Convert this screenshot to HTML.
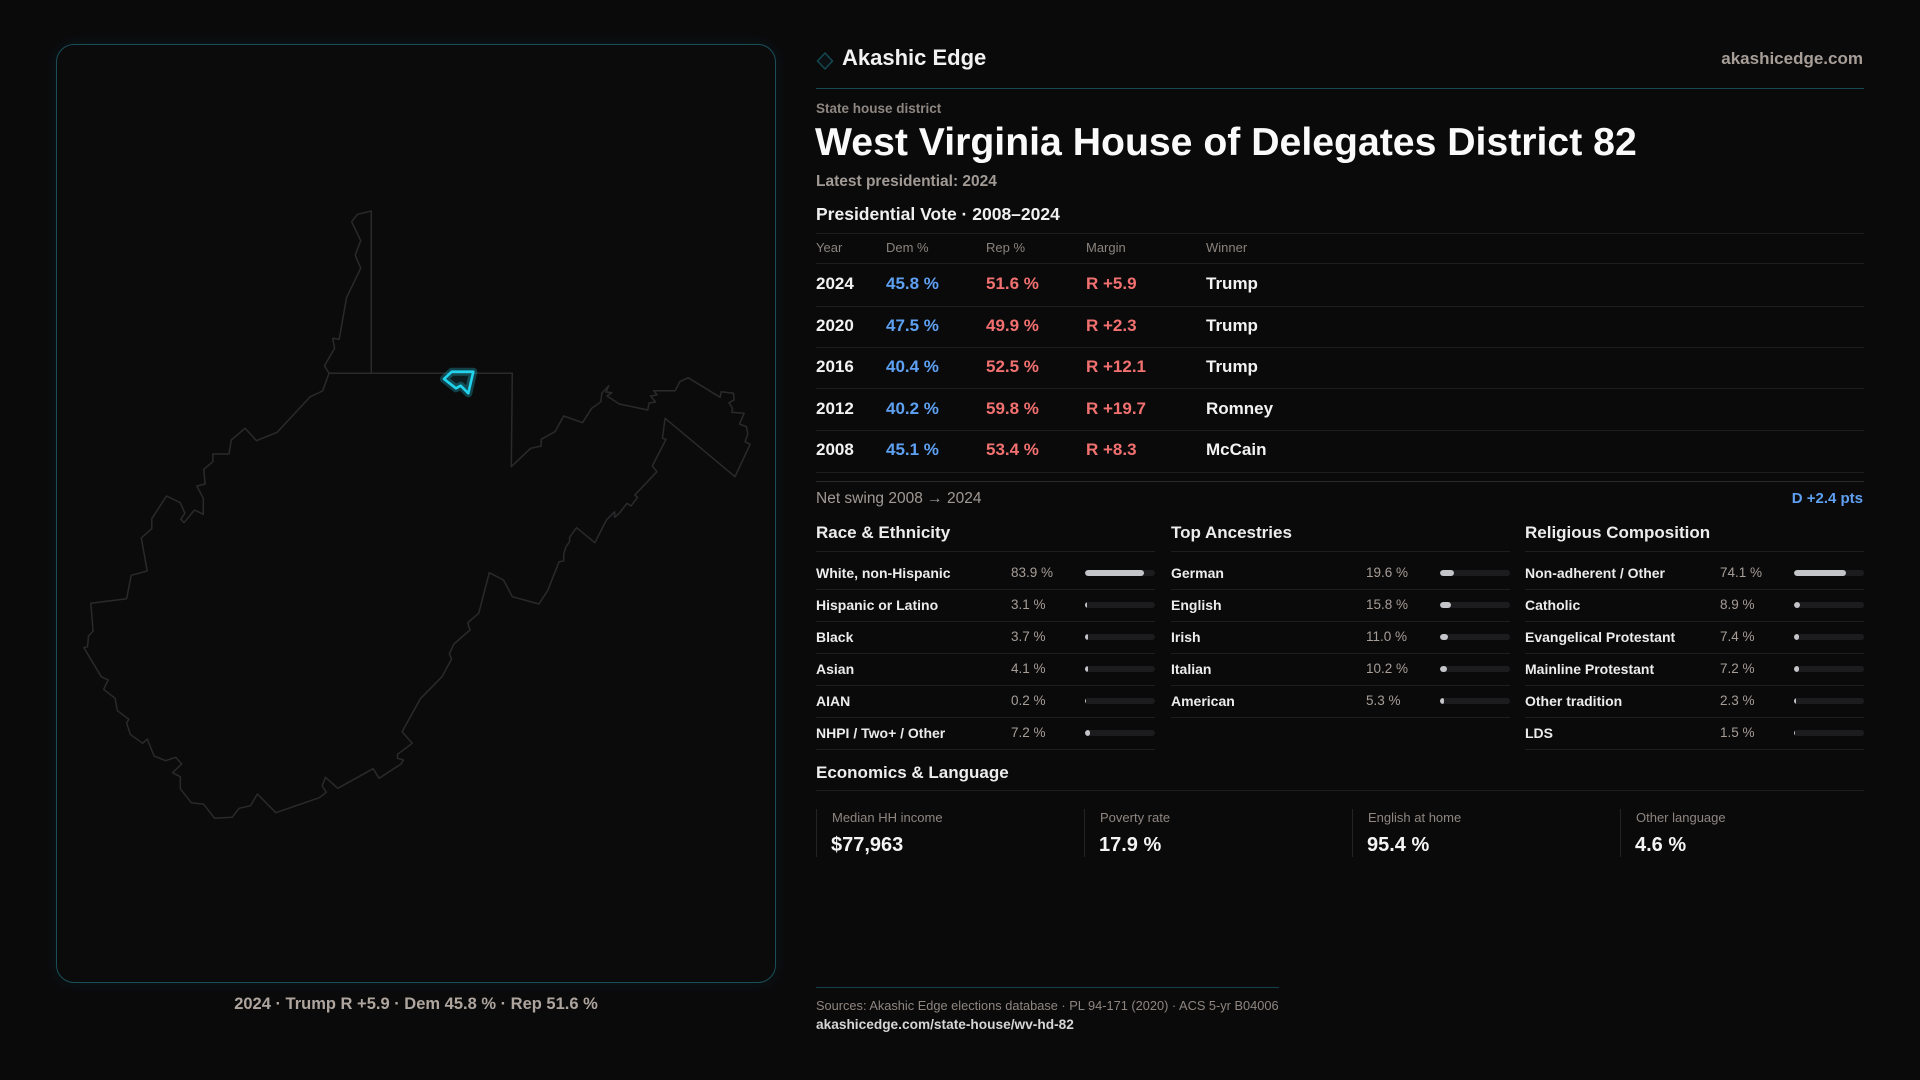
<!DOCTYPE html>
<html><head><meta charset="utf-8"><style>
body{margin:0;width:1920px;height:1080px;background:#0b0a0b;position:relative;overflow:hidden;font-family:"Liberation Sans",sans-serif;}
.a{position:absolute;white-space:nowrap;}
.ln{position:absolute;height:1px;background:#1e1e20;}
.h{font-size:13px;line-height:16px;color:#8a837d;}
.r{font-size:17px;line-height:20px;font-weight:bold;}
.y{color:#f2f2f2}.d{color:#5ea1f2}.p{color:#f27170}.w{color:#f2f2f2}
.sh{font-size:17px;line-height:20px;font-weight:bold;color:#ededed;}
.lb{font-size:14px;line-height:20px;font-weight:bold;color:#ececec;}
.v{font-size:13.5px;line-height:20px;color:#a69d96;}
.tr{position:absolute;height:6px;width:70px;border-radius:3px;background:#1c1c1e;overflow:hidden;}
.tr i{position:absolute;left:0;top:0;height:6px;border-radius:3px;background:#c4c5c9;display:block;}
.cd{position:absolute;top:809px;height:48px;border-left:1px solid #232325;width:244px;}
.cl{position:absolute;left:15px;top:0;font-size:13px;line-height:17px;color:#8e8680;white-space:nowrap;}
.cv{position:absolute;left:14px;top:24px;font-size:20px;line-height:24px;font-weight:bold;color:#f4f4f4;white-space:nowrap;}
</style></head><body>

<!-- Map panel -->
<div class="a" style="left:56px;top:44px;width:718px;height:937px;border:1.5px solid #1a4f59;border-radius:18px;background:#0c0b0c;box-shadow:0 0 16px rgba(34,211,238,0.07);"></div>
<svg class="a" style="left:0;top:0" width="800" height="1080" viewBox="0 0 800 1080">
<path fill="none" stroke="#2a2a2c" stroke-width="1.5" stroke-linejoin="round" d="M371.3,211 L371.3,373.3 L512.3,373.3 L511.3,466.7 L530.6,448.3 L541.2,446 L541.2,439.3 L555,431.7 L563.7,416 L582.5,422.7 L591.7,408.3 L600.9,401.7 L601.8,393.3 L608.7,385.7 L606,392 L611.9,392.7 L607,396 L619.2,404 L647.7,410 L649.1,403 L655.5,402 L650.5,396 L657,395 L653.7,390.7 L675.2,390.7 L679.8,381.7 L688.1,377.7 L720.2,397.3 L721.2,391.7 L733.5,393.3 L734,400 L729,402.7 L732.6,408.3 L731.7,412.3 L744.1,413.3 L739.5,424 L746.4,426.7 L747.8,434 L745,441.7 L750.1,444.3 L735,476.7 L665.1,418.3 L662.4,438.3 L666,439.3 L652.3,466 L656.9,471.7 L634.8,495 L637.6,497.3 L631,506 L627,503.3 L619.2,513.3 L614.6,517.3 L614.6,511.7 L606.4,520 L594.9,542.7 L576.5,527.7 L569.6,537.3 L569.6,541.7 L566,546.7 L563.7,554 L563.7,561 L559.1,561.7 L547.6,590.7 L538.9,604 L512.3,596.7 L503.5,580 L489.3,572.7 L478.7,613.3 L467.7,622.7 L470,630 L453.9,644 L449.3,654 L451.6,659 L442,676.7 L420.4,698.7 L402.1,731.7 L412.2,743.3 L397.5,754.3 L397.5,758.3 L403.4,760 L401.1,764 L379.1,778.3 L373.1,768.7 L337.8,788.3 L325.4,777.3 L322.2,786 L326.3,792.3 L319.4,797.7 L275.8,812.7 L257.4,794 L250.5,805.7 L239.1,808.3 L232.2,817.3 L214.7,818.3 L203.7,804.3 L191.3,802.7 L180.3,788.7 L180.3,776.7 L172.5,772.7 L181.7,764 L175.7,757.3 L165.6,760.7 L154.1,756 L147.2,739 L142.6,743.3 L130.2,734.3 L126.6,722.7 L128.9,719.3 L117.4,710.7 L115.1,698.3 L103.6,689.3 L108.2,680 L101.3,676.7 L83.9,647.7 L87.5,646.7 L88.5,636 L93.1,631 L90.8,603.3 L126.6,598.7 L131.2,575.3 L147.2,571 L141.3,538 L151.8,528.7 L151.8,518.7 L166.5,496 L180.3,502.7 L184.9,513.3 L180.8,519.3 L184,522.7 L194.5,510 L203.3,514.3 L203.3,498.3 L196.8,486 L205.1,484 L203.7,469.3 L212.9,461.7 L212.9,454 L229,454 L231.3,440 L245,428.3 L256.5,440.7 L277.2,432.3 L310.2,396.7 L322.6,391 L329,373.3 L324.5,365.7 L334.6,348.3 L332.7,338.3 L339.2,339.3 L346.5,297.7 L360.7,268.3 L355.2,255 L360.7,240.7 L351.6,221.7 L357.5,214.3 Z M329,373.3 L371.3,373.3"/>
<polygon points="444,379 451.7,371.7 473.3,371.7 468.3,393.3 460.7,385.7 456,388.3" fill="rgba(34,211,238,0.08)" stroke="rgba(34,211,238,0.28)" stroke-width="8" stroke-linejoin="round"/>
<polygon points="444,379 451.7,371.7 473.3,371.7 468.3,393.3 460.7,385.7 456,388.3" fill="none" stroke="#22d3ee" stroke-width="2.6" stroke-linejoin="round"/>
</svg>
<div class="a" style="left:56px;width:720px;top:994px;text-align:center;font-size:16.5px;line-height:20px;font-weight:bold;color:#aea59e;">2024 · Trump R +5.9 · Dem 45.8 % · Rep 51.6 %</div>

<!-- Header -->
<svg class="a" style="left:815px;top:51px" width="20" height="20" viewBox="0 0 20 20"><polygon points="10,2 17.5,10 10,18 2.5,10" fill="rgba(34,211,238,0.04)" stroke="#154a54" stroke-width="1.4"/></svg>
<div class="a" style="left:842px;top:45px;font-size:22px;line-height:26px;font-weight:bold;color:#f2f2f2;">Akashic Edge</div>
<div class="a" style="right:57px;top:49px;font-size:17px;line-height:20px;font-weight:bold;color:#a79e98;">akashicedge.com</div>
<div class="ln" style="left:816px;top:88px;width:1048px;background:#164a54;"></div>

<div class="a" style="left:816px;top:101px;font-size:13.5px;line-height:16px;font-weight:bold;color:#8e8680;">State house district</div>
<div class="a" style="left:815px;top:121px;font-size:39.2px;line-height:44px;font-weight:bold;color:#fafafa;">West Virginia House of Delegates District 82</div>
<div class="a" style="left:816px;top:172.7px;font-size:15.5px;line-height:18px;font-weight:bold;color:#a19a94;">Latest presidential: 2024</div>
<div class="a" style="left:816px;top:204.3px;font-size:17.5px;line-height:20px;font-weight:bold;color:#f0f0f0;">Presidential Vote · 2008–2024</div>

<!-- Table -->
<div class="ln" style="left:816px;top:233px;width:1048px;"></div>
<div class="a h" style="left:816px;top:240.3px;">Year</div>
<div class="a h" style="left:886px;top:240.3px;">Dem %</div>
<div class="a h" style="left:986px;top:240.3px;">Rep %</div>
<div class="a h" style="left:1086px;top:240.3px;">Margin</div>
<div class="a h" style="left:1206px;top:240.3px;">Winner</div>
<div class="ln" style="left:816px;top:263px;width:1048px;"></div>

<div class="a r y" style="left:816px;top:274px;">2024</div>
<div class="a r d" style="left:886px;top:274px;">45.8 %</div>
<div class="a r p" style="left:986px;top:274px;">51.6 %</div>
<div class="a r p" style="left:1086px;top:274px;">R +5.9</div>
<div class="a r w" style="left:1206px;top:274px;">Trump</div>
<div class="ln" style="left:816px;top:305.5px;width:1048px;"></div>

<div class="a r y" style="left:816px;top:315.6px;">2020</div>
<div class="a r d" style="left:886px;top:315.6px;">47.5 %</div>
<div class="a r p" style="left:986px;top:315.6px;">49.9 %</div>
<div class="a r p" style="left:1086px;top:315.6px;">R +2.3</div>
<div class="a r w" style="left:1206px;top:315.6px;">Trump</div>
<div class="ln" style="left:816px;top:347px;width:1048px;"></div>

<div class="a r y" style="left:816px;top:357.2px;">2016</div>
<div class="a r d" style="left:886px;top:357.2px;">40.4 %</div>
<div class="a r p" style="left:986px;top:357.2px;">52.5 %</div>
<div class="a r p" style="left:1086px;top:357.2px;">R +12.1</div>
<div class="a r w" style="left:1206px;top:357.2px;">Trump</div>
<div class="ln" style="left:816px;top:387.5px;width:1048px;"></div>

<div class="a r y" style="left:816px;top:398.8px;">2012</div>
<div class="a r d" style="left:886px;top:398.8px;">40.2 %</div>
<div class="a r p" style="left:986px;top:398.8px;">59.8 %</div>
<div class="a r p" style="left:1086px;top:398.8px;">R +19.7</div>
<div class="a r w" style="left:1206px;top:398.8px;">Romney</div>
<div class="ln" style="left:816px;top:430px;width:1048px;"></div>

<div class="a r y" style="left:816px;top:440.4px;">2008</div>
<div class="a r d" style="left:886px;top:440.4px;">45.1 %</div>
<div class="a r p" style="left:986px;top:440.4px;">53.4 %</div>
<div class="a r p" style="left:1086px;top:440.4px;">R +8.3</div>
<div class="a r w" style="left:1206px;top:440.4px;">McCain</div>
<div class="ln" style="left:816px;top:472px;width:1048px;"></div>
<div class="ln" style="left:816px;top:481px;width:1048px;background:#2a2a2c;"></div>

<div class="a" style="left:816px;top:490px;font-size:15.5px;line-height:18px;color:#a19a94;">Net swing 2008 → 2024</div>
<div class="a" style="right:57px;top:490px;font-size:15px;line-height:18px;font-weight:bold;color:#5ea1f2;">D +2.4 pts</div>

<!-- Race & Ethnicity -->
<div class="a sh" style="left:816px;top:522.7px;">Race &amp; Ethnicity</div>
<div class="ln" style="left:816px;top:551px;width:339px;"></div>
<div class="a lb" style="left:816px;top:562.7px;">White, non-Hispanic</div><div class="a v" style="left:1011px;top:562.7px;">83.9 %</div><div class="tr" style="left:1085px;top:569.7px;"><i style="width:58.7px"></i></div>
<div class="ln" style="left:816px;top:588.7px;width:339px;"></div>
<div class="a lb" style="left:816px;top:594.8px;">Hispanic or Latino</div><div class="a v" style="left:1011px;top:594.8px;">3.1 %</div><div class="tr" style="left:1085px;top:601.8px;"><i style="width:2.2px"></i></div>
<div class="ln" style="left:816px;top:620.8px;width:339px;"></div>
<div class="a lb" style="left:816px;top:626.9px;">Black</div><div class="a v" style="left:1011px;top:626.9px;">3.7 %</div><div class="tr" style="left:1085px;top:633.9px;"><i style="width:2.6px"></i></div>
<div class="ln" style="left:816px;top:652.9px;width:339px;"></div>
<div class="a lb" style="left:816px;top:659px;">Asian</div><div class="a v" style="left:1011px;top:659px;">4.1 %</div><div class="tr" style="left:1085px;top:666px;"><i style="width:2.9px"></i></div>
<div class="ln" style="left:816px;top:685px;width:339px;"></div>
<div class="a lb" style="left:816px;top:691.1px;">AIAN</div><div class="a v" style="left:1011px;top:691.1px;">0.2 %</div><div class="tr" style="left:1085px;top:698.1px;"><i style="width:0.2px"></i></div>
<div class="ln" style="left:816px;top:717.1px;width:339px;"></div>
<div class="a lb" style="left:816px;top:723.2px;">NHPI / Two+ / Other</div><div class="a v" style="left:1011px;top:723.2px;">7.2 %</div><div class="tr" style="left:1085px;top:730.2px;"><i style="width:5px"></i></div>
<div class="ln" style="left:816px;top:749.2px;width:339px;"></div>

<!-- Top Ancestries -->
<div class="a sh" style="left:1171px;top:522.7px;">Top Ancestries</div>
<div class="ln" style="left:1171px;top:551px;width:339px;"></div>
<div class="a lb" style="left:1171px;top:562.7px;">German</div><div class="a v" style="left:1366px;top:562.7px;">19.6 %</div><div class="tr" style="left:1440px;top:569.7px;"><i style="width:13.7px"></i></div>
<div class="ln" style="left:1171px;top:588.7px;width:339px;"></div>
<div class="a lb" style="left:1171px;top:594.8px;">English</div><div class="a v" style="left:1366px;top:594.8px;">15.8 %</div><div class="tr" style="left:1440px;top:601.8px;"><i style="width:11px"></i></div>
<div class="ln" style="left:1171px;top:620.8px;width:339px;"></div>
<div class="a lb" style="left:1171px;top:626.9px;">Irish</div><div class="a v" style="left:1366px;top:626.9px;">11.0 %</div><div class="tr" style="left:1440px;top:633.9px;"><i style="width:7.7px"></i></div>
<div class="ln" style="left:1171px;top:652.9px;width:339px;"></div>
<div class="a lb" style="left:1171px;top:659px;">Italian</div><div class="a v" style="left:1366px;top:659px;">10.2 %</div><div class="tr" style="left:1440px;top:666px;"><i style="width:7.1px"></i></div>
<div class="ln" style="left:1171px;top:685px;width:339px;"></div>
<div class="a lb" style="left:1171px;top:691.1px;">American</div><div class="a v" style="left:1366px;top:691.1px;">5.3 %</div><div class="tr" style="left:1440px;top:698.1px;"><i style="width:3.7px"></i></div>
<div class="ln" style="left:1171px;top:717.1px;width:339px;"></div>

<!-- Religious Composition -->
<div class="a sh" style="left:1525px;top:522.7px;">Religious Composition</div>
<div class="ln" style="left:1525px;top:551px;width:339px;"></div>
<div class="a lb" style="left:1525px;top:562.7px;">Non-adherent / Other</div><div class="a v" style="left:1720px;top:562.7px;">74.1 %</div><div class="tr" style="left:1794px;top:569.7px;"><i style="width:51.9px"></i></div>
<div class="ln" style="left:1525px;top:588.7px;width:339px;"></div>
<div class="a lb" style="left:1525px;top:594.8px;">Catholic</div><div class="a v" style="left:1720px;top:594.8px;">8.9 %</div><div class="tr" style="left:1794px;top:601.8px;"><i style="width:6.2px"></i></div>
<div class="ln" style="left:1525px;top:620.8px;width:339px;"></div>
<div class="a lb" style="left:1525px;top:626.9px;">Evangelical Protestant</div><div class="a v" style="left:1720px;top:626.9px;">7.4 %</div><div class="tr" style="left:1794px;top:633.9px;"><i style="width:5.2px"></i></div>
<div class="ln" style="left:1525px;top:652.9px;width:339px;"></div>
<div class="a lb" style="left:1525px;top:659px;">Mainline Protestant</div><div class="a v" style="left:1720px;top:659px;">7.2 %</div><div class="tr" style="left:1794px;top:666px;"><i style="width:5px"></i></div>
<div class="ln" style="left:1525px;top:685px;width:339px;"></div>
<div class="a lb" style="left:1525px;top:691.1px;">Other tradition</div><div class="a v" style="left:1720px;top:691.1px;">2.3 %</div><div class="tr" style="left:1794px;top:698.1px;"><i style="width:1.6px"></i></div>
<div class="ln" style="left:1525px;top:717.1px;width:339px;"></div>
<div class="a lb" style="left:1525px;top:723.2px;">LDS</div><div class="a v" style="left:1720px;top:723.2px;">1.5 %</div><div class="tr" style="left:1794px;top:730.2px;"><i style="width:1.1px"></i></div>
<div class="ln" style="left:1525px;top:749.2px;width:339px;"></div>

<!-- Economics -->
<div class="a sh" style="left:816px;top:762.7px;">Economics &amp; Language</div>
<div class="ln" style="left:816px;top:790px;width:1048px;"></div>
<div class="cd" style="left:816px;"><div class="cl">Median HH income</div><div class="cv">$77,963</div></div>
<div class="cd" style="left:1084px;"><div class="cl">Poverty rate</div><div class="cv">17.9 %</div></div>
<div class="cd" style="left:1352px;"><div class="cl">English at home</div><div class="cv">95.4 %</div></div>
<div class="cd" style="left:1620px;"><div class="cl">Other language</div><div class="cv">4.6 %</div></div>

<!-- Footer -->
<div class="ln" style="left:816px;top:986.5px;width:463px;background:#12414a;"></div>
<div class="a" style="left:816px;top:997.5px;font-size:12.8px;line-height:16px;color:#8e8680;">Sources: Akashic Edge elections database · PL 94-171 (2020) · ACS 5-yr B04006</div>
<div class="a" style="left:816px;top:1017px;font-size:13.7px;line-height:16px;font-weight:bold;color:#d6d6d6;">akashicedge.com/state-house/wv-hd-82</div>

</body></html>
